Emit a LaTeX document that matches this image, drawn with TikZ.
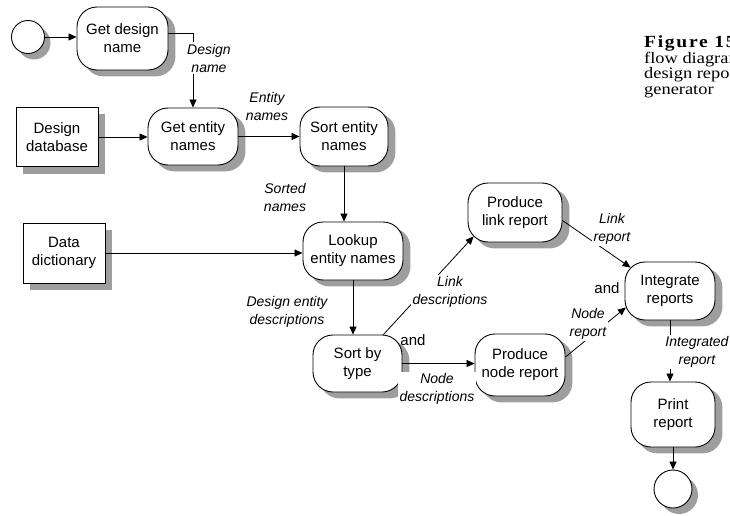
\documentclass[tikz,border=0pt]{standalone}
\usepackage{fontspec}
\setmainfont{Liberation Sans}
\newfontfamily\capserif[FakeStretch=1.15]{Liberation Serif}
\newfontfamily\capserifsp[FakeStretch=1.15,LetterSpace=10]{Liberation Serif}
\usetikzlibrary{arrows.meta,backgrounds,calc}

\begin{document}
\begin{tikzpicture}[x=1pt,y=-1pt,
  proc/.style={draw,line width=0.9pt,rounded corners=20pt,fill=white,align=center,
    inner sep=0pt,font=\fontsize{15}{18}\selectfont},
  store/.style={draw,line width=0.9pt,fill=white,align=center,
    inner sep=0pt,font=\fontsize{15}{18}\selectfont},
  term/.style={draw,line width=0.9pt,circle,fill=white,inner sep=0pt},
  shadowfill/.style={fill=black!38},
  flow/.style={line width=0.8pt,-{Triangle[length=8pt,width=7pt]}},
  lbl/.style={font=\itshape\fontsize{14}{18}\selectfont,align=center,fill=white,inner sep=1.5pt},
  word/.style={font=\fontsize{15}{18}\selectfont,inner sep=0pt},
  captxt/.style={anchor=base west,inner sep=0pt,font=\capserif\fontsize{16}{16}\selectfont}
]
\useasboundingbox (0,0) rectangle (730,516);

% processes, stores and terminators
\node[term,minimum size=33pt] (start) at (28,37) {};
\node[proc,minimum width=91pt,minimum height=63pt] (getdesign) at (122.5,38.5) {Get design\\name};
\node[proc,minimum width=90pt,minimum height=57pt] (getentity) at (193,136.5) {Get entity\\names};
\node[proc,minimum width=88pt,minimum height=59pt] (sortent) at (344,136.5) {Sort entity\\names};
\node[store,minimum width=82pt,minimum height=59pt] (designdb) at (57,137) {Design\\database};
\node[store,minimum width=82pt,minimum height=60pt] (datadict) at (64,253) {Data\\dictionary};
\node[proc,minimum width=100pt,minimum height=58pt] (lookup) at (353,251) {Lookup\\entity names};
\node[proc,minimum width=89pt,minimum height=57pt] (sorttype) at (357.5,363.5) {Sort by\\type};
\node[proc,minimum width=94pt,minimum height=59pt] (linkrep) at (515,212.5) {Produce\\link report};
\node[proc,minimum width=90pt,minimum height=62pt] (noderep) at (520,365) {Produce\\node report};
\node[proc,minimum width=90pt,minimum height=58pt] (integ) at (670,291) {Integrate\\reports};
\node[proc,minimum width=84pt,minimum height=65pt] (print) at (673,414.5) {Print\\report};
\node[term,minimum size=38pt] (endc) at (673,489) {};

% grey drop shadows behind every box
\begin{scope}[on background layer]
  \foreach \n in {getdesign,getentity,sortent,lookup,sorttype,linkrep,noderep,integ,print}
    \fill[shadowfill,rounded corners=20pt]
      ([shift={(7pt,-6pt)}]\n.south west) rectangle ([shift={(7pt,-6pt)}]\n.north east);
  \foreach \n in {designdb,datadict}
    \fill[shadowfill]
      ([shift={(7pt,-7pt)}]\n.south west) rectangle ([shift={(7pt,-7pt)}]\n.north east);
  \fill[shadowfill] ([shift={(6pt,-6pt)}]start.center) circle[radius=16.5pt];
  \fill[shadowfill] ([shift={(6pt,-6pt)}]endc.center) circle[radius=19pt];
\end{scope}

% data flows
\draw[flow] (start.east) -- (start.east -| getdesign.west);
\draw[flow] ([yshift=5pt]getdesign.east) -| (getentity.north);
\draw[flow] (designdb.east) -- (designdb.east -| getentity.west);
\draw[flow] (getentity.east) -- (sortent.west);
\draw[flow] (sortent.south) -- (sortent.south |- lookup.north);
\draw[flow] (datadict.east) -- (datadict.east -| lookup.west);
\draw[flow] (lookup.south) -- (lookup.south |- sorttype.north);
\draw[flow] ([xshift=-19pt]sorttype.north east) -- ([xshift=6pt,yshift=6pt]linkrep.south west);
\draw[flow] (sorttype.east) -- (sorttype.east -| noderep.west);
\draw[flow] ([yshift=-8pt]linkrep.east) -- ([xshift=6pt,yshift=-6pt]integ.north west);
\draw[flow] ([yshift=8pt]noderep.east) -- ([xshift=1.3pt,yshift=13pt]integ.south west);
\draw[flow] (integ.south) -- (integ.south |- print.north);
\draw[flow] (print.south) -- (endc.north);

% flow labels
\node[lbl] (l1) at (209,58) {Design\\name};
\node[lbl] (l2) at (267,106) {Entity\\names};
\node[lbl] (l3) at (285,197) {Sorted\\names};
\node[lbl] (l4) at (287,312) {Design entity\\descriptions};
\node[lbl] (l5) at (450,292) {Link\\descriptions};
\node[lbl] (l6) at (437,389) {Node\\descriptions};
\node[lbl] (l7) at (612,229) {Link\\report};
\node[lbl] (l8) at (588,324) {Node\\report};
\node[lbl] (l9) at (697,352) {Integrated\\report};
\node[word] (and1) at (413,340) {and};
\node[word] (and2) at (607,288) {and};

% caption, running past the right edge
\begin{scope}
\clip (0,0) rectangle (730,516);
\node[captxt,font=\capserifsp\bfseries\fontsize{17}{17}\selectfont] (cap1) at (644,48) {Figure 15};
\node[captxt] (cap2) at (644,63.5) {flow diagram};
\node[captxt] (cap3) at (644,79) {design report};
\node[captxt] (cap4) at (644,94.5) {generator};
\end{scope}
\end{tikzpicture}
\end{document}
